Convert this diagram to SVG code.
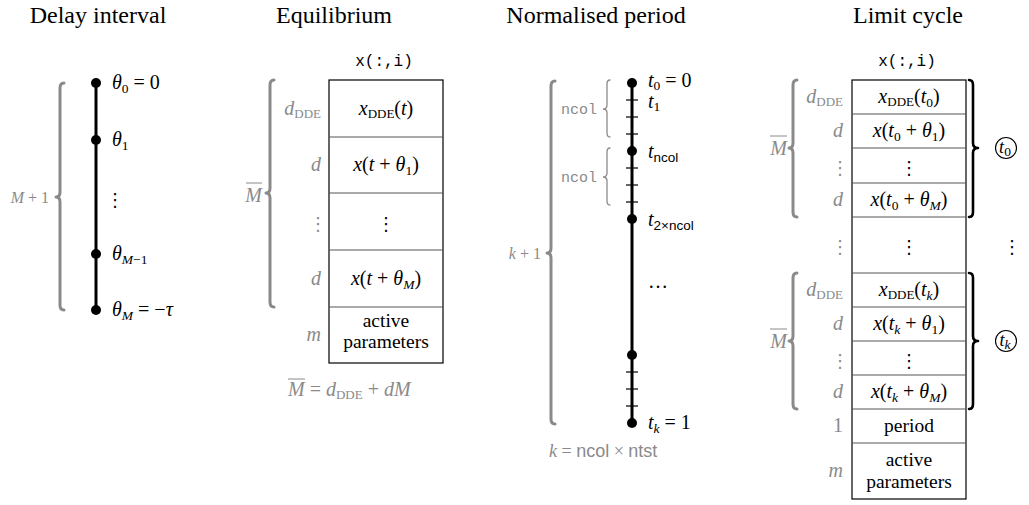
<svg xmlns="http://www.w3.org/2000/svg" width="1029" height="505" viewBox="0 0 1029 505">
<style>
.title{font-family:"Liberation Serif",serif;font-size:24px;fill:#000;text-anchor:middle}
.m{font-family:"Liberation Serif",serif;font-size:20px;font-style:italic;fill:#000}
.g{fill:#8a8a8a}
.r{font-style:normal}
.s{font-size:13.5px}
.sc{font-size:13px;font-style:normal}
.mono{font-family:"Liberation Mono",monospace;font-size:16px;fill:#000}
.monog{font-family:"Liberation Mono",monospace;font-size:15px;fill:#8a8a8a}
.sans{font-family:"Liberation Sans",sans-serif;font-style:normal}
.txt{font-family:"Liberation Serif",serif;font-size:19.5px;fill:#000;text-anchor:middle}
.vd{font-family:"DejaVu Sans",sans-serif;font-size:18px;text-anchor:middle}
.end{text-anchor:end}
.mid{text-anchor:middle}
.gb{fill:none;stroke:#8a8a8a;stroke-width:3;stroke-linecap:round;stroke-linejoin:round}
.gbt{fill:none;stroke:#8a8a8a;stroke-width:1.3;stroke-linecap:round}
.bb{fill:none;stroke:#000;stroke-width:2.6;stroke-linecap:round;stroke-linejoin:round}
.axis{stroke:#000;stroke-width:3}
.tick{stroke:#000;stroke-width:1.2}
.box{fill:#fff;stroke:#000;stroke-width:1.2}
.sep{stroke:#555;stroke-width:1.2}
.circ{fill:none;stroke:#000;stroke-width:1.1}
</style>

<!-- Titles -->
<g id="titles">
<text class="title" x="98" y="23">Delay interval</text>
<text class="title" x="334" y="23">Equilibrium</text>
<text class="title" x="596" y="23">Normalised period</text>
<text class="title" x="908" y="23">Limit cycle</text>
</g>

<!-- Panel 1: Delay interval -->
<g id="delay-interval">
<line class="axis" x1="96" y1="83" x2="96" y2="310"/>
<circle cx="96" cy="83" r="5"/>
<circle cx="96" cy="140" r="5"/>
<circle cx="96" cy="254" r="5"/>
<circle cx="96" cy="310" r="5"/>
<text class="m" x="112" y="89">θ<tspan class="s r" dy="4">0</tspan><tspan class="r" dy="-4"> = 0</tspan></text>
<text class="m" x="112" y="146">θ<tspan class="s r" dy="4">1</tspan></text>
<text class="vd" x="115" y="206">⋮</text>
<text class="m" x="112" y="260">θ<tspan class="s" dy="4">M<tspan class="r">−1</tspan></tspan></text>
<text class="m" x="112" y="316">θ<tspan class="s" dy="4">M</tspan><tspan dy="-4"><tspan class="r"> = −</tspan>τ</tspan></text>
<path class="gb" d="M64 83 Q60 83 60 88 V192 Q60 197 56 197 Q60 197 60 202 V305 Q60 310 64 310"/>
<text class="m g end" x="49" y="203" style="font-size:16px">M<tspan class="r"> + 1</tspan></text>
</g>

<!-- Panel 2: Equilibrium -->
<g id="equilibrium">
<text class="mono mid" x="384" y="66">x(:,i)</text>
<rect class="box" x="329" y="80" width="114" height="283"/>
<line class="sep" x1="329" y1="137" x2="443" y2="137"/>
<line class="sep" x1="329" y1="193" x2="443" y2="193"/>
<line class="sep" x1="329" y1="250" x2="443" y2="250"/>
<line class="sep" x1="329" y1="307" x2="443" y2="307"/>
<text class="m mid" x="386" y="115">x<tspan class="sc" dy="3">DDE</tspan><tspan class="r" dy="-3">(</tspan>t<tspan class="r">)</tspan></text>
<text class="m mid" x="386" y="171">x<tspan class="r">(</tspan>t<tspan class="r"> + </tspan>θ<tspan class="s r" dy="4">1</tspan><tspan class="r" dy="-4">)</tspan></text>
<text class="vd" x="386" y="230">⋮</text>
<text class="m mid" x="386" y="285">x<tspan class="r">(</tspan>t<tspan class="r"> + </tspan>θ<tspan class="s" dy="4">M</tspan><tspan class="r" dy="-4">)</tspan></text>
<text class="txt" x="386" y="327">active</text>
<text class="txt" x="386" y="348">parameters</text>
<text class="m g end" x="321" y="115">d<tspan class="sc" dy="3">DDE</tspan></text>
<text class="m g end" x="321" y="171">d</text>
<text class="vd g" x="318" y="230">⋮</text>
<text class="m g end" x="321" y="285">d</text>
<text class="m g end" x="321" y="341">m</text>
<path class="gb" d="M274 80 Q270 80 270 85 V188 Q270 193 266 193 Q270 193 270 198 V302 Q270 307 274 307"/>
<text class="m g end" x="262" y="202">M</text>
<line x1="246" y1="183" x2="262" y2="183" stroke="#8a8a8a" stroke-width="1"/>
<text class="m g" x="288" y="396">M<tspan class="r"> = </tspan>d<tspan class="sc" dy="3">DDE</tspan><tspan dy="-3"><tspan class="r"> + </tspan>dM</tspan></text>
<line x1="288" y1="379" x2="305" y2="379" stroke="#8a8a8a" stroke-width="1"/>
</g>

<!-- Panel 3: Normalised period -->
<g id="normalised-period">
<line class="axis" x1="632" y1="83" x2="632" y2="423"/>
<g class="tick">
<line x1="626" y1="100" x2="638" y2="100"/>
<line x1="626" y1="117" x2="638" y2="117"/>
<line x1="626" y1="134" x2="638" y2="134"/>
<line x1="626" y1="168" x2="638" y2="168"/>
<line x1="626" y1="185" x2="638" y2="185"/>
<line x1="626" y1="202" x2="638" y2="202"/>
<line x1="626" y1="372" x2="638" y2="372"/>
<line x1="626" y1="389" x2="638" y2="389"/>
<line x1="626" y1="406" x2="638" y2="406"/>
</g>
<circle cx="632" cy="83" r="5"/>
<circle cx="632" cy="151" r="5"/>
<circle cx="632" cy="219" r="5"/>
<circle cx="632" cy="355" r="5"/>
<circle cx="632" cy="423" r="5"/>
<text class="m" x="648" y="87">t<tspan class="s r" dy="3">0</tspan><tspan class="r" dy="-3"> = 0</tspan></text>
<text class="m" x="648" y="108">t<tspan class="s r" dy="3">1</tspan></text>
<text class="m" x="648" y="158">t<tspan class="s sans" dy="4">ncol</tspan></text>
<text class="m" x="648" y="226">t<tspan class="s sans" dy="4">2×ncol</tspan></text>
<text class="m r" x="648" y="288">…</text>
<text class="m" x="648" y="429">t<tspan class="s" dy="4">k</tspan><tspan class="r" dy="-4"> = 1</tspan></text>
<path class="gbt" d="M610 80 Q607 80 607 84 V105 Q607 109 603 109 Q607 109 607 113 V133 Q607 137 610 137"/>
<path class="gbt" d="M610 148 Q607 148 607 152 V173 Q607 177 603 177 Q607 177 607 181 V201 Q607 205 610 205"/>
<text class="monog end" x="597" y="114">ncol</text>
<text class="monog end" x="597" y="182">ncol</text>
<path class="gb" d="M555 81 Q551 81 551 86 V248 Q551 253 547 253 Q551 253 551 258 V419 Q551 424 555 424"/>
<text class="m g end" x="541" y="259" style="font-size:16px">k<tspan class="r"> + 1</tspan></text>
<text class="m g" x="549" y="457" style="font-size:18px">k<tspan class="r"> = </tspan><tspan class="sans" style="font-size:18px">ncol</tspan><tspan class="r"> × </tspan><tspan class="sans" style="font-size:18px">ntst</tspan></text>
</g>

<!-- Panel 4: Limit cycle -->
<g id="limit-cycle">
<text class="mono mid" x="907" y="66">x(:,i)</text>
<rect class="box" x="852" y="80" width="114" height="419"/>
<g class="sep">
<line x1="852" y1="114" x2="966" y2="114"/>
<line x1="852" y1="148" x2="966" y2="148"/>
<line x1="852" y1="183" x2="966" y2="183"/>
<line x1="852" y1="217" x2="966" y2="217"/>
<line x1="852" y1="273" x2="966" y2="273"/>
<line x1="852" y1="307" x2="966" y2="307"/>
<line x1="852" y1="341" x2="966" y2="341"/>
<line x1="852" y1="375" x2="966" y2="375"/>
<line x1="852" y1="409" x2="966" y2="409"/>
<line x1="852" y1="443" x2="966" y2="443"/>
</g>
<text class="m mid" x="909" y="103">x<tspan class="sc" dy="3">DDE</tspan><tspan class="r" dy="-3">(</tspan>t<tspan class="s r" dy="4">0</tspan><tspan class="r" dy="-4">)</tspan></text>
<text class="m mid" x="909" y="137">x<tspan class="r">(</tspan>t<tspan class="s r" dy="4">0</tspan><tspan dy="-4"><tspan class="r"> + </tspan>θ</tspan><tspan class="s r" dy="4">1</tspan><tspan class="r" dy="-4">)</tspan></text>
<text class="vd" x="909" y="174">⋮</text>
<text class="m mid" x="909" y="206">x<tspan class="r">(</tspan>t<tspan class="s r" dy="4">0</tspan><tspan dy="-4"><tspan class="r"> + </tspan>θ</tspan><tspan class="s" dy="4">M</tspan><tspan class="r" dy="-4">)</tspan></text>
<text class="vd" x="909" y="253">⋮</text>
<text class="m mid" x="909" y="296">x<tspan class="sc" dy="3">DDE</tspan><tspan class="r" dy="-3">(</tspan>t<tspan class="s" dy="4">k</tspan><tspan class="r" dy="-4">)</tspan></text>
<text class="m mid" x="909" y="330">x<tspan class="r">(</tspan>t<tspan class="s" dy="4">k</tspan><tspan dy="-4"><tspan class="r"> + </tspan>θ</tspan><tspan class="s r" dy="4">1</tspan><tspan class="r" dy="-4">)</tspan></text>
<text class="vd" x="909" y="367">⋮</text>
<text class="m mid" x="909" y="398">x<tspan class="r">(</tspan>t<tspan class="s" dy="4">k</tspan><tspan dy="-4"><tspan class="r"> + </tspan>θ</tspan><tspan class="s" dy="4">M</tspan><tspan class="r" dy="-4">)</tspan></text>
<text class="txt" x="909" y="432">period</text>
<text class="txt" x="909" y="466">active</text>
<text class="txt" x="909" y="488">parameters</text>

<text class="m g end" x="843" y="103">d<tspan class="sc" dy="3">DDE</tspan></text>
<text class="m g end" x="843" y="137">d</text>
<text class="vd g" x="840" y="174">⋮</text>
<text class="m g end" x="843" y="206">d</text>
<text class="vd g" x="840" y="253">⋮</text>
<text class="m g end" x="843" y="296">d<tspan class="sc" dy="3">DDE</tspan></text>
<text class="m g end" x="843" y="330">d</text>
<text class="vd g" x="840" y="367">⋮</text>
<text class="m g end" x="843" y="398">d</text>
<text class="m g end r" x="843" y="432">1</text>
<text class="m g end" x="843" y="477">m</text>

<path class="gb" d="M797 80 Q793 80 793 85 V143 Q793 148 789 148 Q793 148 793 153 V212 Q793 217 797 217"/>
<path class="gb" d="M797 273 Q793 273 793 278 V336 Q793 341 789 341 Q793 341 793 346 V404 Q793 409 797 409"/>
<text class="m g end" x="787" y="155">M</text>
<line x1="770" y1="136" x2="787" y2="136" stroke="#8a8a8a" stroke-width="1"/>
<text class="m g end" x="787" y="348">M</text>
<line x1="770" y1="329" x2="787" y2="329" stroke="#8a8a8a" stroke-width="1"/>

<path class="bb" d="M969 80 Q973 80 973 85 V143 Q973 148 978 148 Q973 148 973 153 V212 Q973 217 969 217"/>
<path class="bb" d="M969 273 Q973 273 973 278 V336 Q973 341 978 341 Q973 341 973 346 V404 Q973 409 969 409"/>
<circle class="circ" cx="1006" cy="148" r="10.5"/>
<text class="m mid" x="1005" y="153" style="font-size:18px">t<tspan class="s r" dy="3">0</tspan></text>
<circle class="circ" cx="1006" cy="341" r="10.5"/>
<text class="m mid" x="1005" y="346" style="font-size:18px">t<tspan class="s" dy="3">k</tspan></text>
<text class="vd" x="1012" y="253">⋮</text>
</g>
</svg>
